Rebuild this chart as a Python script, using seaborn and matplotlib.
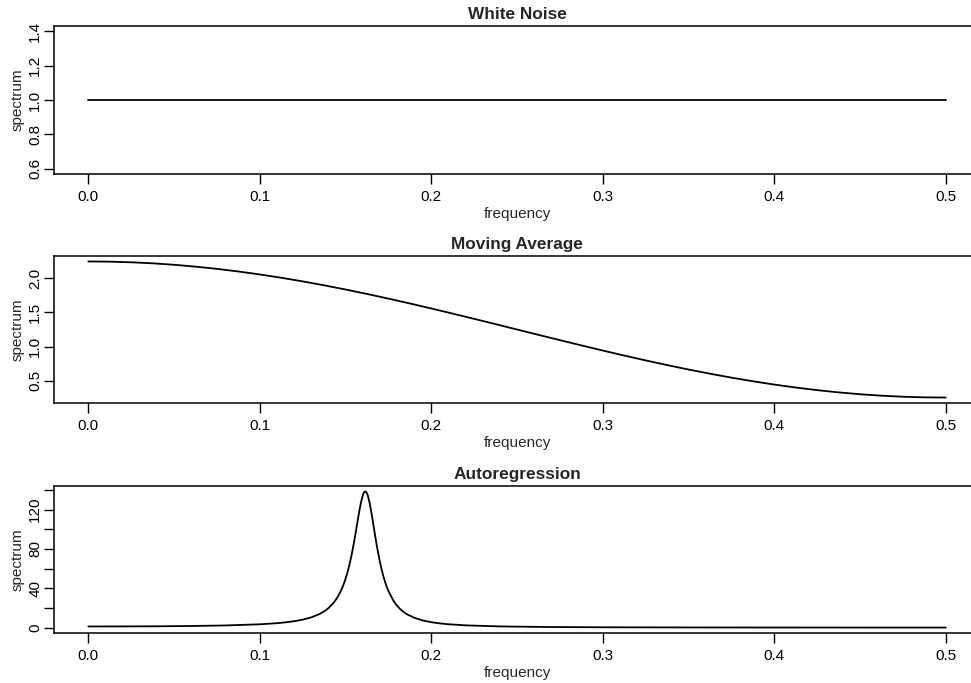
import matplotlib
matplotlib.use("Agg")
import matplotlib.pyplot as plt
import pandas as pd
import seaborn as sns

# Theoretical spectra of three simple time-series models
wn_freq = [0.0, 0.5]
wn_spec = [1.0, 1.0]

ma_freq = [0.0, 0.0125, 0.025, 0.0375, 0.05, 0.0625, 0.075, 0.0875, 0.1, 0.1125,
           0.125, 0.1375, 0.15, 0.1625, 0.175, 0.1875, 0.2, 0.2125, 0.225, 0.2375,
           0.25, 0.2625, 0.275, 0.2875, 0.3, 0.3125, 0.325, 0.3375, 0.35, 0.3625,
           0.375, 0.3875, 0.4, 0.4125, 0.425, 0.4375, 0.45, 0.4625, 0.475, 0.4875, 0.5]
ma_spec = [2.25, 2.2469, 2.2377, 2.2224, 2.2011, 2.1739, 2.1410, 2.1026, 2.0590, 2.0104,
           1.9571, 1.8994, 1.8378, 1.7725, 1.7040, 1.6327, 1.5590, 1.4834, 1.4064, 1.3285,
           1.25, 1.1715, 1.0936, 1.0166, 0.9410, 0.8673, 0.7960, 0.7275, 0.6622, 0.6006,
           0.5429, 0.4896, 0.4410, 0.3974, 0.3590, 0.3261, 0.2989, 0.2776, 0.2623, 0.2531, 0.25]

ar_freq = [0.0, 0.02, 0.04, 0.06, 0.08, 0.10, 0.11, 0.115, 0.12, 0.125, 0.13, 0.135,
           0.138, 0.14, 0.143, 0.145, 0.147, 0.148, 0.149, 0.15, 0.151, 0.152, 0.153,
           0.154, 0.155, 0.156, 0.157, 0.158, 0.159, 0.160, 0.1605, 0.161, 0.1615,
           0.162, 0.1625, 0.163, 0.164, 0.165, 0.166, 0.167, 0.168, 0.169, 0.17, 0.171,
           0.172, 0.173, 0.174, 0.175, 0.178, 0.18, 0.182, 0.184, 0.186, 0.19, 0.195,
           0.2, 0.205, 0.21, 0.22, 0.24, 0.27, 0.3, 0.35, 0.4, 0.45, 0.5]
ar_spec = [1.2346, 1.2765, 1.4150, 1.6978, 2.2496, 3.4251, 4.5593, 5.400, 6.5384, 8.131,
           10.4496, 14.003, 17.11, 19.801, 25.18, 30.020, 36.29, 40.119, 44.51, 49.54,
           55.318, 61.93, 69.44, 77.90, 87.27, 97.37, 107.84, 118.07, 127.18, 134.13,
           136.48, 137.95, 138.4, 138.0, 136.56, 134.22, 127.18, 117.84, 107.26, 96.39,
           85.87, 76.13, 67.35, 59.57, 52.77, 46.86, 41.73, 37.28, 27.16, 22.38, 18.686,
           15.78, 13.477, 10.103, 7.360, 5.571, 4.347, 3.4768, 2.3565, 1.2729, 0.6482,
           0.3956, 0.2228, 0.1553, 0.1269, 0.1189]

titles = ["White Noise", "Moving Average", "Autoregression"]
x_ticks = [0.0, 0.1, 0.2, 0.3, 0.4, 0.5]
x_ticklabels = ["0.0", "0.1", "0.2", "0.3", "0.4", "0.5"]
y_ticks = [[0.6, 0.8, 1.0, 1.2, 1.4],
           [0.5, 1.0, 1.5, 2.0],
           [0, 20, 40, 60, 80, 100, 120, 140]]
y_ticklabels = [["0.6", "0.8", "1.0", "1.2", "1.4"],
                ["0.5", "1.0", "1.5", "2.0"],
                ["0", "", "40", "", "80", "", "120", ""]]

sns.set_style("ticks")
plt.rcParams["font.family"] = ["Liberation Sans", "DejaVu Sans"]

series = [
    pd.DataFrame({"frequency": wn_freq, "spectrum": wn_spec}),
    pd.DataFrame({"frequency": ma_freq, "spectrum": ma_spec}),
    pd.DataFrame({"frequency": ar_freq, "spectrum": ar_spec}),
]

W, H = 971, 683
fig = plt.figure(figsize=(W / 100, H / 100), dpi=100)

# panel boxes in pixels: left, top, right, bottom (box extends past the right edge)
boxes = [(54, 26, 980, 174), (54, 256, 980, 403), (54, 486, 980, 633)]

for i, (df, box) in enumerate(zip(series, boxes)):
    l, t, r, b = box
    ax = fig.add_axes([l / W, 1 - b / H, (r - l) / W, (b - t) / H])
    sns.lineplot(data=df, x="frequency", y="spectrum", ax=ax, color="black",
                 linewidth=1.3, estimator=None, sort=False)
    ymin, ymax = min(df["spectrum"]), max(df["spectrum"])
    if ymax - ymin < 1e-9:
        ymin, ymax = ymin - 0.4, ymax + 0.4
    pad = 0.04 * (ymax - ymin)
    ax.set_ylim(ymin - pad, ymax + pad)
    ax.set_xlim(-0.02, 0.52)
    ax.set_xticks(x_ticks)
    ax.set_xticklabels(x_ticklabels)
    ax.set_yticks(y_ticks[i])
    ax.set_yticklabels(y_ticklabels[i], rotation=90, va="center")
    ax.tick_params(axis="both", direction="out", length=7, width=1.0,
                   labelsize=11, color="black", labelcolor="black")
    ax.tick_params(axis="x", pad=4.5)
    ax.tick_params(axis="y", pad=1.5)
    for s in ax.spines.values():
        s.set_visible(True)
        s.set_linewidth(1.1)
        s.set_color("black")
    ax.set_xlabel("frequency", fontsize=11, labelpad=2.5)
    ax.set_ylabel("spectrum", fontsize=11)
    # right edge of the rotated label sits about 25 px from the figure edge
    ax.yaxis.set_label_coords(-(l - 25) / (r - l), 0.5)
    ax.set_title(titles[i], fontsize=12.4, fontweight="bold", pad=5)

fig.savefig("out.png", dpi=100, facecolor="white")
